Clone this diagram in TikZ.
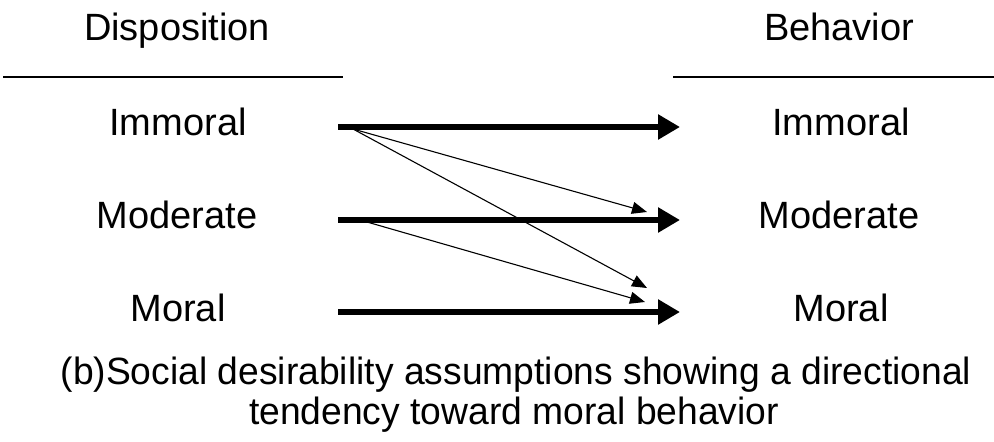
\documentclass[tikz,border=0pt]{standalone}
\usepackage{fontspec}
\setmainfont{Liberation Sans}
\usetikzlibrary{arrows.meta}
\begin{document}
\begin{tikzpicture}[x=1pt,y=-1pt,
  lab/.style={anchor=base,inner sep=0pt,font=\fontsize{38}{40}\selectfont},
  captext/.style={anchor=base,inner sep=0pt,font=\fontsize{38}{40}\selectfont},
  hrule/.style={line width=1.6pt},
  thick arrow/.style={line width=5.5pt,-{Triangle[length=22pt,width=24pt]}},
  thin arrow/.style={line width=1.1pt,-{Triangle[length=15pt,width=12pt]}}]
\useasboundingbox (0,0) rectangle (994,442);
% headers
\node[lab] (disp) at (177,40) {Disposition};
\node[lab] (behav) at (839,40) {Behavior};
\coordinate (r1a) at (3,77); \coordinate (r1b) at (343,77);
\coordinate (r2a) at (673,77); \coordinate (r2b) at (994,77);
\draw[hrule] (r1a) -- (r1b);
\draw[hrule] (r2a) -- (r2b);
% labels
\node[lab] (limm) at (178,135) {Immoral};
\node[lab] (lmod) at (177,228) {Moderate};
\node[lab] (lmor) at (178,321) {Moral};
\node[lab] (rimm) at (841,135) {Immoral};
\node[lab] (rmod) at (839,228) {Moderate};
\node[lab] (rmor) at (841,321) {Moral};
% arrow end points
\coordinate (s1) at (338,127); \coordinate (e1) at (680,127);
\coordinate (s2) at (338,220); \coordinate (e2) at (680,220);
\coordinate (s3) at (338,312); \coordinate (e3) at (680,312);
\coordinate (t1) at (353,129);
\coordinate (t2) at (367,222);
\coordinate (u1) at (647,212);
\coordinate (u2) at (647,288);
\coordinate (u3) at (645,302);
\draw[thick arrow] (s1) -- (e1);
\draw[thick arrow] (s2) -- (e2);
\draw[thick arrow] (s3) -- (e3);
\draw[thin arrow] (t1) -- (u1);
\draw[thin arrow] (t1) -- (u2);
\draw[thin arrow] (t2) -- (u3);
% caption
\node[captext] (cap1) at (516,384) {\scalebox{0.98}[1]{(b)Social desirability assumptions showing a directional}};
\node[captext] (cap2) at (514,424) {\scalebox{0.98}[1]{tendency toward moral behavior}};
\end{tikzpicture}
\end{document}
